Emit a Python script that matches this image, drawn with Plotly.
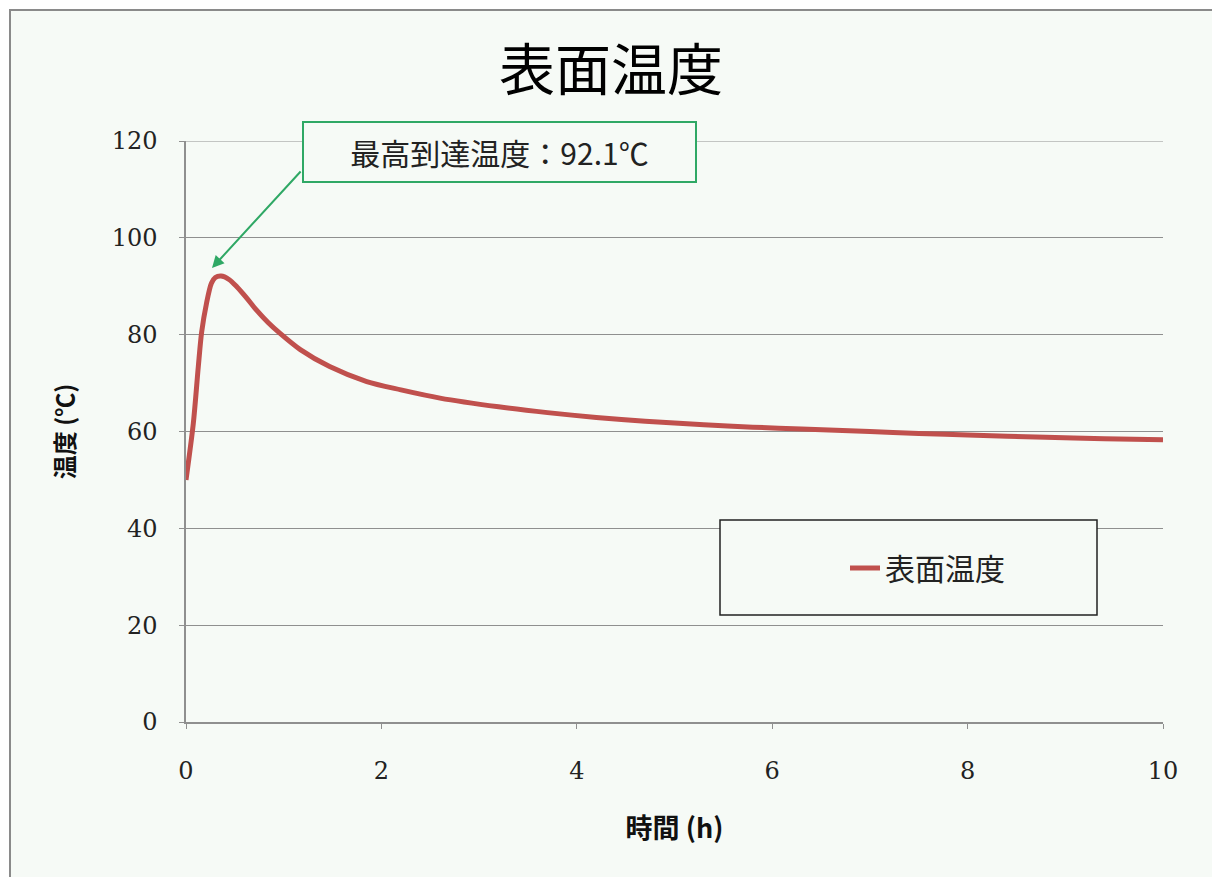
import plotly.graph_objects as go

# ---- data ----
time_h = [0, 0.075, 0.126, 0.16, 0.21, 0.26, 0.30, 0.36, 0.44, 0.52, 0.62, 0.72,
          0.84, 0.96, 1.17, 1.47, 1.85, 2.2, 2.6, 3.2, 3.7, 4.2, 4.7, 5.3, 5.8,
          6.3, 7.0, 7.5, 8.0, 8.8, 9.4, 10.0]
surface_temp = [50.0, 61.7, 73.4, 80.5, 86.5, 90.6, 91.8, 92.1, 91.4, 89.9, 87.6,
                85.1, 82.5, 80.3, 76.9, 73.4, 70.3, 68.6, 66.9, 65.1, 63.9, 62.9,
                62.1, 61.4, 60.9, 60.5, 60.0, 59.6, 59.3, 58.8, 58.5, 58.3]
series_name = "表面温度"
title_text = "表面温度"
x_title = "時間 (h)"
y_title = "温度 (℃)"
peak_label = "最高到達温度：92.1℃"
x_ticks = [0, 2, 4, 6, 8, 10]
y_ticks = [0, 20, 40, 60, 80, 100, 120]

# ---- layout geometry (screen pixels of the reference; page has an 8px body offset) ----
OFF = 8
W, H = 1212, 869
L, R, T, B = 186, 1163, 141, 722          # plot area in screen pixels
pw, ph = R - L, B - T
X_RANGE = [0, 10]
Y_RANGE = [0, 120]

def px_to_paper_x(px):
    return (px - L) / pw

def px_to_paper_y(py):
    return (B - py) / ph

def px_to_data_x(px):
    return X_RANGE[0] + px_to_paper_x(px) * (X_RANGE[1] - X_RANGE[0])

def px_to_data_y(py):
    return Y_RANGE[0] + px_to_paper_y(py) * (Y_RANGE[1] - Y_RANGE[0])

BG = "#f6faf6"
GRID = "#8f8f8f"
RED = "#c0504d"
GREEN = "#2fa865"
NUM_FONT = "DejaVu Serif, Liberation Serif, serif"
CJK_FONT = "Noto Sans CJK JP, sans-serif"

fig = go.Figure()
fig.add_trace(go.Scatter(
    x=time_h, y=surface_temp, mode="lines", name=series_name,
    line=dict(color=RED, width=5, shape="spline", smoothing=0.8),
))

shapes = [
    # outer chart frame
    dict(type="rect", xref="paper", yref="paper",
         x0=px_to_paper_x(10), x1=px_to_paper_x(1213),
         y0=px_to_paper_y(895), y1=px_to_paper_y(10),
         line=dict(color="#8a8a8a", width=2), fillcolor=BG, layer="below"),
    # top gridline (plotly drops the grid line sitting on the plot edge)
    dict(type="line", xref="paper", yref="y", x0=0, x1=1,
         y0=y_ticks[-1], y1=y_ticks[-1],
         line=dict(color=GRID, width=1), layer="below"),
    # legend box
    dict(type="rect", xref="paper", yref="paper",
         x0=px_to_paper_x(720), x1=px_to_paper_x(1097),
         y0=px_to_paper_y(615), y1=px_to_paper_y(520),
         line=dict(color="#222222", width=1.5), fillcolor=BG, layer="above"),
]

annotations = [
    # arrow to peak
    dict(x=px_to_data_x(212), y=px_to_data_y(268), xref="x", yref="y",
         ax=px_to_data_x(302), ay=px_to_data_y(170), axref="x", ayref="y",
         text="", showarrow=True, arrowhead=2, arrowsize=1.2, arrowwidth=2,
         arrowcolor=GREEN, standoff=0),
    # peak label box
    dict(x=px_to_paper_x(499.5), y=px_to_paper_y(152), xref="paper", yref="paper",
         text=peak_label, showarrow=False, width=391, height=58,
         xanchor="center", yanchor="middle",
         font=dict(family=CJK_FONT, size=30, color="#222222"),
         bgcolor=BG, bordercolor=GREEN, borderwidth=2, borderpad=0),
]

fig.update_layout(
    width=W, height=H,
    margin=dict(l=L - OFF, r=W - (R - OFF), t=T - OFF, b=H - (B - OFF), autoexpand=False),
    paper_bgcolor="white",
    plot_bgcolor="rgba(0,0,0,0)",
    title=dict(text=title_text, x=px_to_paper_x(611), xref="paper", xanchor="center",
               y=1 - (70 - OFF) / H, yanchor="middle",
               font=dict(family=CJK_FONT, size=56, color="black")),
    showlegend=True,
    legend=dict(x=px_to_paper_x(845), y=px_to_paper_y(568),
                xanchor="left", yanchor="middle",
                bgcolor="rgba(0,0,0,0)", borderwidth=0,
                font=dict(family=CJK_FONT, size=30, color="#222222")),
    xaxis=dict(range=X_RANGE, tickvals=x_ticks, showgrid=False,
               showline=True, linecolor=GRID, linewidth=1.5,
               ticks="outside", ticklen=5, tickcolor=GRID,
               ticklabelstandoff=21, zeroline=False,
               tickfont=dict(family=NUM_FONT, size=24, color="#222222"),
               title=dict(text=x_title, standoff=36,
                          font=dict(family=CJK_FONT, size=27, color="#111111", weight="bold"))),
    yaxis=dict(range=Y_RANGE, tickvals=y_ticks, showgrid=True,
               gridcolor=GRID, gridwidth=1,
               showline=True, linecolor=GRID, linewidth=1.5,
               ticks="outside", ticklen=5, tickcolor=GRID,
               ticklabelstandoff=17, zeroline=False,
               tickfont=dict(family=NUM_FONT, size=24, color="#222222"),
               title=dict(text=y_title, standoff=30,
                          font=dict(family=CJK_FONT, size=24, color="#111111", weight="bold"))),
    shapes=shapes,
    annotations=annotations,
)

fig.write_html("out.html")
